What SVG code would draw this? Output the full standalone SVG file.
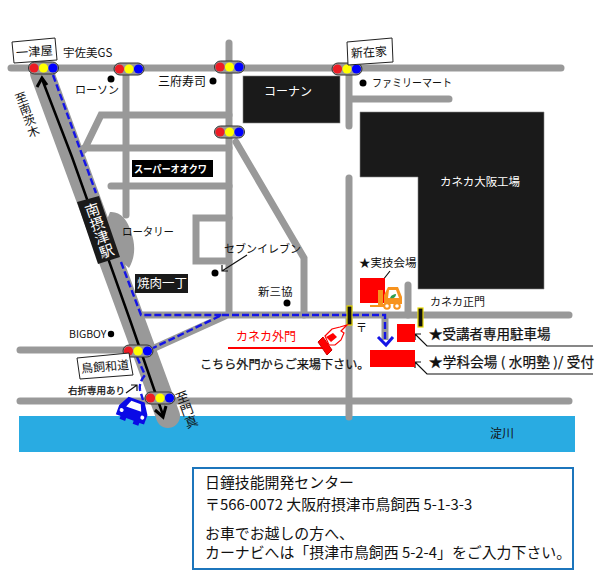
<svg xmlns="http://www.w3.org/2000/svg" width="601" height="584" viewBox="0 0 601 584">
<style>
text{font-family:"Noto Sans CJK JP","Noto Sans",sans-serif;fill:#111;font-size:12px}
.w{fill:#fff}
.rd{fill:none;stroke:#999;stroke-width:7;stroke-linecap:round;stroke-linejoin:miter}
.bk{fill:#1a1a1a;stroke:#888;stroke-width:.6}
.lb{fill:#fff;stroke:#222;stroke-width:1}
.tl{fill:#999;stroke:#333;stroke-width:1}
.dash{fill:none;stroke:#1414e6;stroke-width:2.400;stroke-dasharray:7 3}
.lead{fill:none;stroke:#111;stroke-width:1.2}
.red{fill:#f00}
.gate{fill:#111;stroke:#e6d800;stroke-width:1.2}
.b{stroke:#111;stroke-width:.25}
.info{font-size:14.900px}
</style>
<defs>
<g id="light">
<rect x="-15" y="-6" width="30" height="12" rx="6" class="tl"/>
<circle cx="-9.5" r="4.6" fill="#ed1c24"/><circle r="4.6" fill="#ff0"/><circle cx="9.5" r="4.6" fill="#00f"/>
</g>
</defs>
<rect id="river" x="19" y="416" width="556" height="36" fill="#29abe2"/>
<g id="roads">
<path class="rd" d="M11 68H561"/>
<path class="rd" d="M229 43V313"/>
<path class="rd" d="M126 68V215"/>
<path class="rd" d="M229 115H101L84 150M84 148H229M111 186H229"/>
<path class="rd" d="M229 218H196V261H229"/>
<path class="rd" d="M236 142L304 258V315"/>
<path class="rd" d="M349 68V126M349 99H449"/>
<path class="rd" d="M349 178V417"/>
<path class="rd" d="M408 285V315"/>
<path class="rd" d="M138 315H569"/>
<path class="rd" d="M385 315V340" style="stroke-linecap:butt"/>
<path class="rd" d="M150 350L225 316"/>
<path class="rd" d="M20 350H130"/>
<path class="rd" d="M20 401H569"/>
<path d="M42 73L168 416" stroke="#999" stroke-width="24" stroke-linecap="round" fill="none"/>
<path d="M110 212C120 211 128 220 131 232C136 245 135 258 129 268L122 262L106 222Z" fill="#999"/>
</g>
<g id="connectors">
<path d="M42 79L72 157L130 320L163 415" fill="none" stroke="#000" stroke-width="2.5"/>
<path d="M37 87L42 78L47 85M155 410L163 417L166 406" fill="none" stroke="#000" stroke-width="3"/>
<path class="dash" d="M53 75L96 193"/>
<path class="dash" d="M121 262L141 315H222L153 348"/>
<path class="dash" d="M222 315H385V342"/>
<path d="M378 337L386 345L393 337" fill="none" stroke="#1414e6" stroke-width="3"/>
<path class="dash" d="M137 357L145 375C141 380 139 385 140 390L143 400"/>
<path class="lead" d="M593 346H427L415 334M415 340V334H421"/>
<path class="lead" d="M593 374H427L415 362M415 368V362H421"/>
<path class="lead" d="M390 271L379 285M379 279V285H385"/>
<path class="lead" d="M247 255L222 271M222 265V271H228"/>
<path class="lead" d="M126 393L137 385M131 385H137V391" stroke-width="1.6"/>
<path d="M228 348H322" stroke="#f00" stroke-width="2" fill="none"/>
</g>
<g id="gates">
<rect class="gate" x="347" y="306" width="5" height="19"/>
<rect class="gate" x="418" y="308" width="5" height="19"/>
</g>
<g id="lights">
<use href="#light" x="43.500" y="68"/>
<use href="#light" x="129" y="69"/>
<use href="#light" x="229.500" y="67"/>
<use href="#light" x="229.500" y="132"/>
<use href="#light" x="347" y="69"/>
<use href="#light" x="138" y="351"/>
<use href="#light" x="160" y="398"/>
</g>
<g id="building-konan"><rect class="bk" x="243" y="76" width="97" height="47"/><text class="w" x="264" y="96">コーナン</text></g>
<g id="building-kaneka"><path class="bk" d="M360 112H544V289H418V177H360Z"/><text class="w" x="440" y="186" textLength="80" style="font-size:11.500px">カネカ大阪工場</text></g>
<g id="label-ichitsuya"><path class="lb" d="M12 42L55 38L57 60L14 63Z"/><text x="16" y="56" style="font-size:12.300px" transform="rotate(-4 35 52)">一津屋</text></g>
<g id="label-shinzaike"><path class="lb" d="M347 42L392 38L393 62L348 65Z"/><text x="351" y="56.500" style="font-size:12px" transform="rotate(-4 370 52)">新在家</text></g>
<g id="label-torikai"><path class="lb" d="M77 358L129 353L133 375L80 379Z"/><text x="81" y="371" style="font-size:12px" transform="rotate(-5 105 366)">鳥飼和道</text></g>
<g id="label-station"><path d="M77 202L99 196L120 257L98 264Z" fill="#1a1a1a"/><text class="w" transform="translate(90 203) rotate(-19)" style="font-size:14.500px;writing-mode:vertical-rl" x="0" y="0">南摂津駅</text></g>
<g id="label-super"><rect x="132" y="160" width="81" height="17" fill="#000"/><text class="w" x="134" y="173" textLength="73" lengthAdjust="spacingAndGlyphs" style="font-size:10px;font-weight:700">スーパーオオクワ</text></g>
<g id="label-yakiniku"><rect x="135" y="274" width="53" height="19" fill="#1a1a1a"/><text class="w" x="137" y="288" style="font-size:12.500px">焼肉一丁</text></g>
<g id="poi">
<circle cx="111" cy="79" r="3.500"/><circle cx="213" cy="81" r="3.500"/><circle cx="363" cy="83" r="3.500"/>
<circle cx="215" cy="273" r="3.500"/><circle cx="287" cy="303" r="3.500"/><circle cx="111" cy="334" r="3.200"/>
<text x="63" y="57" style="font-size:11.500px">宇佐美GS</text>
<text x="75" y="94" style="font-size:11px">ローソン</text>
<text x="158" y="86">三府寿司</text>
<text x="372" y="87" textLength="80" lengthAdjust="spacingAndGlyphs" style="font-size:11px">ファミリーマート</text>
<text x="122" y="236" textLength="52" lengthAdjust="spacingAndGlyphs" style="font-size:11.500px">ロータリー</text>
<text x="224" y="253" style="font-size:11px">セブンイレブン</text>
<text x="258" y="296" style="font-size:11.500px">新三協</text>
<text x="69" y="338" style="font-size:10.500px">BIGBOY</text>
<text x="68" y="394" style="font-size:9.500px" class="b">右折専用あり</text>
<text x="490" y="438">淀川</text>
<text x="430" y="306" style="font-size:11px">カネカ正門</text>
<text x="356" y="332" style="font-size:11px">〒</text>
</g>
<g id="road-labels">
<text style="font-size:12px;writing-mode:vertical-rl" transform="translate(19 92) rotate(-20)">至南茨木</text>
<text style="font-size:13px;writing-mode:vertical-rl" transform="translate(180 391) rotate(-20)">至門真</text>
</g>
<g id="venues">
<rect class="red" x="360" y="278" width="25" height="25"/>
<rect class="red" x="397" y="324" width="18" height="18"/>
<rect class="red" x="370" y="350" width="45" height="17"/>
<text x="359" y="267" style="font-size:11.500px">★実技会場</text>
<text x="429" y="339" style="font-size:13.500px" class="b">★受講者専用駐車場</text>
<text x="429" y="367" textLength="165" style="font-size:13.500px" class="b">★学科会場 ( 水明塾 )/ 受付</text>
<text x="236" y="341" style="font-size:12px;fill:#f00">カネカ外門</text>
<text x="200" y="369" style="font-size:12.100px" class="b">こちら外門からご来場下さい。</text>
</g>
<g id="forklift">
<path d="M378 290H383V304H389V307H370V305H378Z" fill="#f7931e"/>
<path d="M384 304V295L388 287H398L402 297V304Z" fill="#f7931e"/>
<path d="M389 290H396L399 298H388Z" fill="#fff"/>
<path d="M390 298C391 295 394 294 396 294C396 297 394 299 390 298Z" fill="#2e9e4f"/>
<circle cx="387" cy="306" r="2.800" fill="#fff" stroke="#f7931e" stroke-width="2"/>
<circle cx="397" cy="306" r="2.800" fill="#fff" stroke="#f7931e" stroke-width="2"/>
</g>
<g id="hand">
<path d="M318 342L323 337L332 350L327 355Z" fill="#f00" stroke="#c00" stroke-width="1"/>
<path d="M325 336L332 329L340 327L347 325L341 331L344 333L341 340L335 345L329 345Z" fill="#fff" stroke="#f00" stroke-width="1.200"/>
<path d="M326 337L333 333L337 337L331 342Z" fill="#f00"/>
</g>
<g id="car">
<g transform="rotate(20 133 411)">
<path d="M118 420V410L124 399H141L148 410V420H143V423H137V420H129V423H123V420Z" fill="#0a0ae6"/>
<path d="M125 409L128 402H138L141 409Z" fill="#fff"/>
<circle cx="122" cy="414" r="2" fill="#fff"/><circle cx="144" cy="414" r="2" fill="#fff"/>
</g>
</g>
<g id="info">
<rect x="193" y="468" width="380" height="101" fill="#fff" stroke="#1c75bc" stroke-width="2"/>
<text x="205" y="488" class="info" style="font-size:14.900px">日鐘技能開発センター</text>
<text x="205" y="510" class="info" style="font-size:14.900px">〒566-0072 大阪府摂津市鳥飼西 5-1-3-3</text>
<text x="205" y="539" class="info" style="font-size:14.900px">お車でお越しの方へ、</text>
<text x="205" y="558" class="info" style="font-size:14.900px">カーナビへは「摂津市鳥飼西 5-2-4」をご入力下さい。</text>
</g>
</svg>
